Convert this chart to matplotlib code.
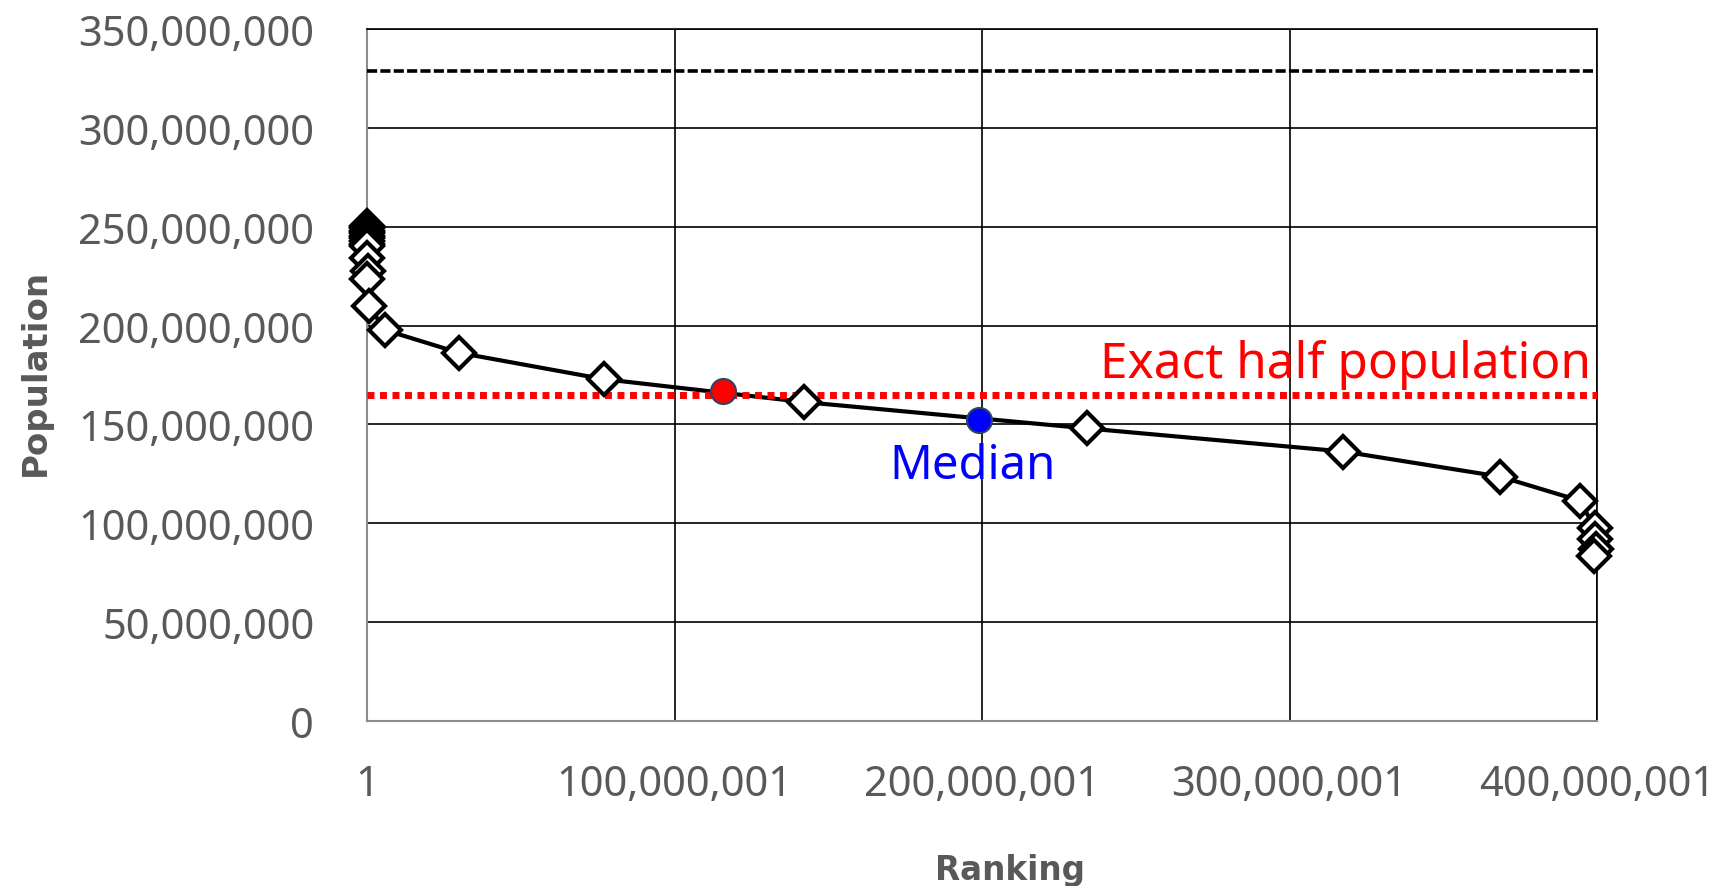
import matplotlib
matplotlib.use("Agg")
import matplotlib.pyplot as plt
from matplotlib.ticker import FuncFormatter, FixedLocator

# ---- data ----
rank = [1, 1, 1, 1, 1, 1, 1, 1, 1, 100000, 300000, 100000, 750000,
        5700000, 30000000, 77000000, 142200000, 234100000, 317500000,
        368500000, 394500000, 399200000, 399400000, 399600000, 399000000]
population = [250.4e6, 249.1e6, 247.8e6, 246.6e6, 245.3e6, 244.1e6, 242.8e6,
              241.5e6, 240.3e6, 234.2e6, 227.6e6, 223.6e6, 209.9e6,
              197.8e6, 186.2e6, 172.9e6, 161.3e6, 148.0e6, 136.3e6,
              123.6e6, 111.4e6, 97.7e6, 92.0e6, 86.9e6, 83.6e6]

total_population = 329.0e6
half_population = 164.7e6

half_point_rank = [115800000]
half_point_pop = [166.8e6]
median_rank = [198900000]
median_pop = [152.4e6]

x_ticks = [1, 100000001, 200000001, 300000001, 400000001]
y_ticks = [0, 50e6, 100e6, 150e6, 200e6, 250e6, 300e6, 350e6]

# ---- figure ----
plt.rcParams['font.family'] = ['Noto Sans', 'DejaVu Sans']
W, H = 1718, 887
fig = plt.figure(figsize=(W / 100, H / 100), dpi=100)
ax = fig.add_axes([367 / W, 1 - 722 / H, (1597 - 367) / W, (722 - 30) / H])

ax.set_xlim(x_ticks[0], x_ticks[-1])
ax.set_ylim(y_ticks[0], y_ticks[-1])

# total & half lines
ax.plot([x_ticks[0], x_ticks[-1]], [total_population] * 2, color='black',
        lw=2.6, linestyle=(0, (2.8, 0.9)), zorder=3)

# main curve
ax.plot(rank, population, color='black', lw=3.0, zorder=3, clip_on=False)

ax.plot([x_ticks[0], x_ticks[-1]], [half_population] * 2, color='#ff0000',
        lw=5, linestyle=(0, (1.0, 0.8)), dash_capstyle='butt', zorder=3.5)

ax.plot(rank, population, linestyle='none', marker='D', markersize=16.5,
        markerfacecolor='white', markeredgecolor='black', markeredgewidth=3.0,
        zorder=4, clip_on=False)

ax.plot(half_point_rank, half_point_pop, linestyle='none', marker='o',
        markersize=18, markerfacecolor='#ff0000', markeredgecolor='#2a4660',
        markeredgewidth=1.5, zorder=5)
ax.plot(median_rank, median_pop, linestyle='none', marker='o',
        markersize=18, markerfacecolor='#0000ff', markeredgecolor='#2a4660',
        markeredgewidth=1.5, zorder=5)

# annotations
fig.text(1591 / W, 1 - 378 / H, 'Exact half population', color='#ff0000',
         fontsize=35.7, ha='right', va='baseline')
fig.text(973 / W, 1 - 479 / H, 'Median', color='#0000ff',
         fontsize=34, ha='center', va='baseline')

# axes styling
ax.xaxis.set_major_locator(FixedLocator(x_ticks))
ax.yaxis.set_major_locator(FixedLocator(y_ticks))
ax.xaxis.set_major_formatter(FuncFormatter(lambda v, p: f"{int(round(v)):,}"))
ax.yaxis.set_major_formatter(FuncFormatter(lambda v, p: f"{int(round(v)):,}"))
ax.tick_params(axis='both', length=0, labelsize=30, labelcolor='#595959')
ax.tick_params(axis='y', pad=38)
ax.tick_params(axis='x', pad=30)
ax.grid(True, color='black', lw=1.2)
ax.set_axisbelow(True)
for s in ['top', 'right']:
    ax.spines[s].set_color('black')
    ax.spines[s].set_linewidth(1.2)
for s in ['left', 'bottom']:
    ax.spines[s].set_color('#8c8c8c')
    ax.spines[s].set_linewidth(1.5)

fig.text(1010 / W, 1 - 880 / H, 'Ranking', color='#595959', fontsize=23.5,
         family=['DejaVu Sans'], fontweight='bold', ha='center', va='baseline')
fig.text(35 / W, 1 - 372 / H, 'Population', color='#595959', fontsize=24.5,
         family=['DejaVu Sans'], fontweight='bold', ha='center', va='center',
         rotation=90)

fig.savefig('out.png', dpi=100)
